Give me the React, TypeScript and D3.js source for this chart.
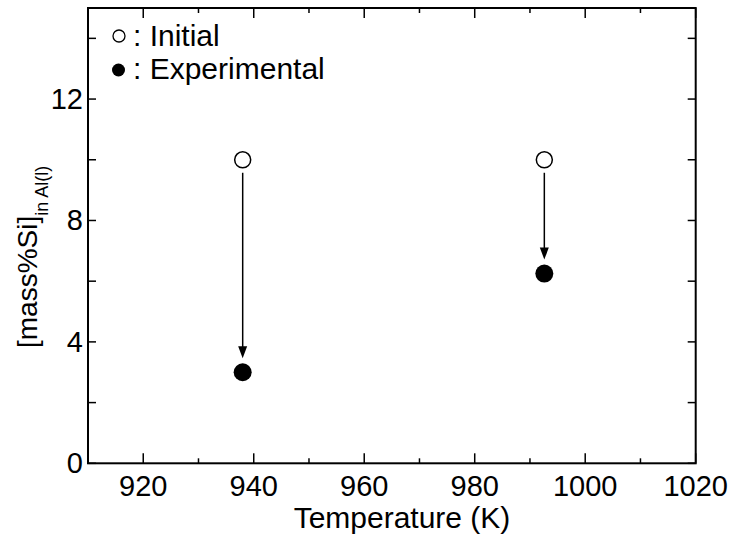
import React from "react";
import * as d3 from "d3";

const temperatures = [938, 992.6];
const initialSi = [10.0, 10.0];
const experimentalSi = [3.0, 6.25];
const xTicksMajor = [920, 940, 960, 980, 1000, 1020];
const xTicksMinor = [910, 930, 950, 970, 990, 1010];
const yTicksMajor = [0, 4, 8, 12];
const yTicksMinor = [2, 6, 10, 14];
const legendLabels = [": Initial", ": Experimental"];
const xTitle = "Temperature (K)";
const yTitleMain = "[mass%Si]";
const yTitleSub = "in Al(l)";

const W = 733;
const H = 541;
const M = { left: 88, right: 37.3, top: 8, bottom: 77.7 };
const FONT = "'Liberation Sans', Arial, sans-serif";

export default function App() {
  const x = d3.scaleLinear().domain([910, 1020]).range([M.left, W - M.right]);
  const y = d3.scaleLinear().domain([0, 15]).range([H - M.bottom, M.top]);
  const [x0, x1] = x.range();
  const [yb, yt] = y.range();

  const arrowHead = (cx: number, tipY: number) => {
    const path = d3.path();
    path.moveTo(cx, tipY);
    path.lineTo(cx - 4.5, tipY - 12);
    path.lineTo(cx + 4.5, tipY - 12);
    path.closePath();
    return path.toString();
  };

  return (
    <svg
      width={W}
      height={H}
      style={{ position: "absolute", left: 0, top: 0, background: "#fff" }}
      fontFamily={FONT}
    >
      {/* ticks */}
      <g stroke="#000" strokeWidth={1.5}>
        {xTicksMajor.map((t) => (
          <g key={"xM" + t}>
            <line x1={x(t)} x2={x(t)} y1={yb} y2={yb - 10} />
            <line x1={x(t)} x2={x(t)} y1={yt} y2={yt + 10} />
          </g>
        ))}
        {xTicksMinor.map((t) => (
          <g key={"xm" + t}>
            <line x1={x(t)} x2={x(t)} y1={yb} y2={yb - 5} />
            <line x1={x(t)} x2={x(t)} y1={yt} y2={yt + 5} />
          </g>
        ))}
        {[...yTicksMajor, ...yTicksMinor].map((t) => (
          <g key={"y" + t}>
            <line x1={x0} x2={x0 + 8} y1={y(t)} y2={y(t)} />
            <line x1={x1} x2={x1 - 8} y1={y(t)} y2={y(t)} />
          </g>
        ))}
      </g>
      {/* frame */}
      <rect
        x={x0}
        y={yt}
        width={x1 - x0}
        height={yb - yt}
        fill="none"
        stroke="#000"
        strokeWidth={2}
      />
      {/* tick labels */}
      <g fontSize={29} fill="#000">
        {xTicksMajor.map((t) => (
          <text key={"xl" + t} x={x(t)} y={496} textAnchor="middle">
            {t}
          </text>
        ))}
        {yTicksMajor.map((t) => (
          <text
            key={"yl" + t}
            x={x0 - 5}
            y={y(t)}
            textAnchor="end"
            dominantBaseline="central"
          >
            {t}
          </text>
        ))}
      </g>
      {/* axis titles */}
      <text x={402} y={528} fontSize={30} textAnchor="middle" fill="#000">
        {xTitle}
      </text>
      <text
        transform="translate(37,348) rotate(-90)"
        fontSize={28}
        fill="#000"
      >
        {yTitleMain}
        <tspan dy={11} fontSize={18}>
          {yTitleSub}
        </tspan>
      </text>
      {/* arrows */}
      <g stroke="#000" strokeWidth={1.5}>
        {temperatures.map((t, i) => (
          <line
            key={"al" + i}
            x1={x(t)}
            x2={x(t)}
            y1={y(initialSi[i]) + 13}
            y2={y(experimentalSi[i]) - 20}
          />
        ))}
      </g>
      {temperatures.map((t, i) => (
        <path
          key={"ah" + i}
          d={arrowHead(x(t), y(experimentalSi[i]) - 14)}
          fill="#000"
        />
      ))}
      {/* points */}
      {temperatures.map((t, i) => (
        <circle
          key={"ini" + i}
          cx={x(t)}
          cy={y(initialSi[i])}
          r={8}
          fill="#fff"
          stroke="#000"
          strokeWidth={1.5}
        />
      ))}
      {temperatures.map((t, i) => (
        <circle
          key={"exp" + i}
          cx={x(t)}
          cy={y(experimentalSi[i])}
          r={9}
          fill="#000"
        />
      ))}
      {/* legend */}
      <circle cx={119} cy={36} r={6} fill="#fff" stroke="#000" strokeWidth={1.3} />
      <circle cx={118.5} cy={70} r={6.5} fill="#000" />
      <g fontSize={30} fill="#000">
        <text x={133} y={46}>
          {legendLabels[0]}
        </text>
        <text x={133} y={79}>
          {legendLabels[1]}
        </text>
      </g>
    </svg>
  );
}
